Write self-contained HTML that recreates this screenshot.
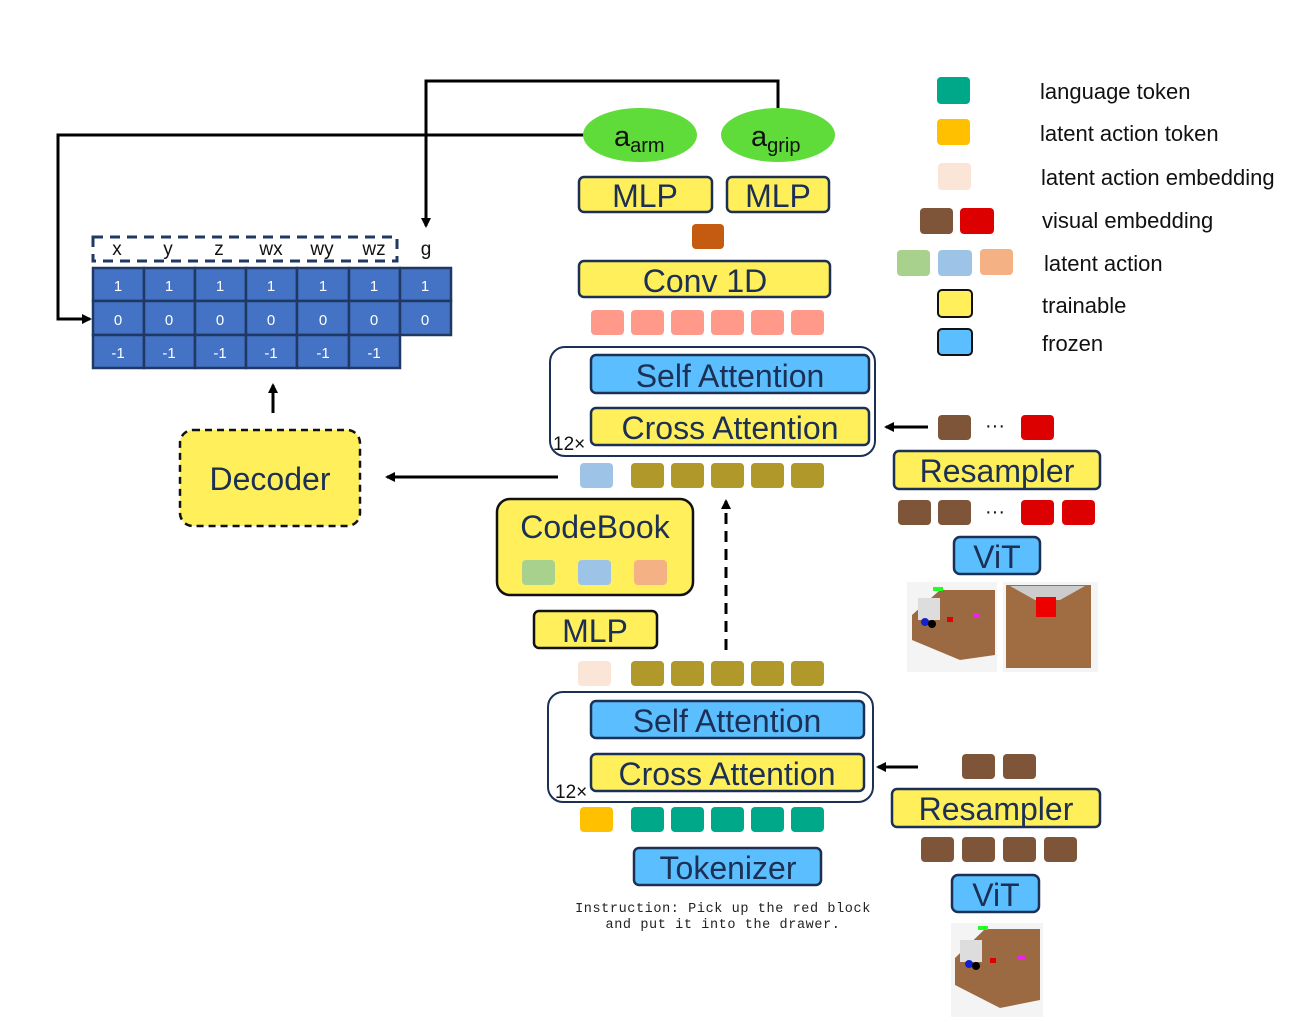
<!DOCTYPE html>
<html><head><meta charset="utf-8"><style>
html,body{margin:0;padding:0;background:#fff;}
svg{display:block;}
text{font-family:"Liberation Sans",sans-serif;}
.lbl{fill:#1c2f55;font-size:32px;text-anchor:middle;}
.leg{fill:#111;font-size:22px;}
.cell{fill:#4472c4;stroke:#1f3864;stroke-width:2.5;}
.ct{fill:#fff;font-size:15px;text-anchor:middle;}
.y{fill:#ffef5a;stroke:#1c2f55;stroke-width:2.5;}
.b{fill:#5bbfff;stroke:#1c2f55;stroke-width:2.5;}
</style></head><body>
<svg width="1301" height="1022" viewBox="0 0 1301 1022" xmlns="http://www.w3.org/2000/svg">
<defs>
<marker id="ah" markerWidth="10" markerHeight="10" refX="8" refY="5" orient="auto" markerUnits="userSpaceOnUse"><path d="M0,0 L10,5 L0,10 z" fill="#000"/></marker>
</defs>
<polyline points="584,135 58,135 58,319 90,319" fill="none" stroke="#000" stroke-width="3" marker-end="url(#ah)"/>
<polyline points="778,108 778,81 426,81 426,226" fill="none" stroke="#000" stroke-width="3" marker-end="url(#ah)"/>
<line x1="558" y1="477" x2="387" y2="477" stroke="#000" stroke-width="3" marker-end="url(#ah)"/>
<line x1="273" y1="413" x2="273" y2="385" stroke="#000" stroke-width="3" marker-end="url(#ah)"/>
<line x1="726" y1="650" x2="726" y2="501" stroke="#000" stroke-width="3" stroke-dasharray="11,7" marker-end="url(#ah)"/>
<line x1="928" y1="427" x2="886" y2="427" stroke="#000" stroke-width="3" marker-end="url(#ah)"/>
<line x1="918" y1="767" x2="878" y2="767" stroke="#000" stroke-width="3" marker-end="url(#ah)"/>

<rect x="93" y="237" width="304" height="24" fill="none" stroke="#1f3864" stroke-width="3" stroke-dasharray="10,7"/>
<g font-size="19" fill="#111" text-anchor="middle">
<text x="117" y="255">x</text><text x="168" y="255">y</text><text x="219" y="255">z</text><text x="271" y="255">wx</text><text x="322" y="255">wy</text><text x="374" y="255">wz</text><text x="426" y="255">g</text>
</g>
<g>
<rect class="cell" x="93" y="268" width="51" height="33"/><rect class="cell" x="144" y="268" width="51" height="33"/><rect class="cell" x="195" y="268" width="51" height="33"/><rect class="cell" x="246" y="268" width="51" height="33"/><rect class="cell" x="297" y="268" width="52" height="33"/><rect class="cell" x="349" y="268" width="51" height="33"/><rect class="cell" x="400" y="268" width="51" height="33"/>
<rect class="cell" x="93" y="301" width="51" height="34"/><rect class="cell" x="144" y="301" width="51" height="34"/><rect class="cell" x="195" y="301" width="51" height="34"/><rect class="cell" x="246" y="301" width="51" height="34"/><rect class="cell" x="297" y="301" width="52" height="34"/><rect class="cell" x="349" y="301" width="51" height="34"/><rect class="cell" x="400" y="301" width="51" height="34"/>
<rect class="cell" x="93" y="335" width="51" height="33"/><rect class="cell" x="144" y="335" width="51" height="33"/><rect class="cell" x="195" y="335" width="51" height="33"/><rect class="cell" x="246" y="335" width="51" height="33"/><rect class="cell" x="297" y="335" width="52" height="33"/><rect class="cell" x="349" y="335" width="51" height="33"/>
</g>
<g>
<text class="ct" x="118" y="291">1</text><text class="ct" x="169" y="291">1</text><text class="ct" x="220" y="291">1</text><text class="ct" x="271" y="291">1</text><text class="ct" x="323" y="291">1</text><text class="ct" x="374" y="291">1</text><text class="ct" x="425" y="291">1</text>
<text class="ct" x="118" y="325">0</text><text class="ct" x="169" y="325">0</text><text class="ct" x="220" y="325">0</text><text class="ct" x="271" y="325">0</text><text class="ct" x="323" y="325">0</text><text class="ct" x="374" y="325">0</text><text class="ct" x="425" y="325">0</text>
<text class="ct" x="118" y="358">-1</text><text class="ct" x="169" y="358">-1</text><text class="ct" x="220" y="358">-1</text><text class="ct" x="271" y="358">-1</text><text class="ct" x="323" y="358">-1</text><text class="ct" x="374" y="358">-1</text>
</g>

<rect x="180" y="430" width="180" height="96" rx="13" fill="#ffef5a" stroke="#111" stroke-width="2.5" stroke-dasharray="7,5"/>
<text class="lbl" x="270" y="490">Decoder</text>

<ellipse cx="640" cy="135" rx="57" ry="27" fill="#5fdb3a"/>
<ellipse cx="778" cy="135" rx="57" ry="27" fill="#5fdb3a"/>
<text x="614" y="146" font-size="29" fill="#111">a<tspan font-size="20" dy="6">arm</tspan></text>
<text x="751" y="146" font-size="29" fill="#111">a<tspan font-size="20" dy="6">grip</tspan></text>

<rect class="y" x="579" y="177" width="133" height="35" rx="5"/><text class="lbl" x="645" y="207">MLP</text>
<rect class="y" x="727" y="177" width="102" height="35" rx="5"/><text class="lbl" x="778" y="207">MLP</text>
<rect x="692" y="224" width="32" height="25" rx="4" fill="#c55a11"/>
<rect class="y" x="579" y="261" width="251" height="36" rx="5"/><text class="lbl" x="705" y="292">Conv 1D</text>
<g fill="#ff9a8a">
<rect x="591" y="310" width="33" height="25" rx="4"/><rect x="631" y="310" width="33" height="25" rx="4"/><rect x="671" y="310" width="33" height="25" rx="4"/><rect x="711" y="310" width="33" height="25" rx="4"/><rect x="751" y="310" width="33" height="25" rx="4"/><rect x="791" y="310" width="33" height="25" rx="4"/>
</g>

<rect x="550" y="347" width="325" height="109" rx="15" fill="#fff" stroke="#1c2f55" stroke-width="2"/>
<rect class="b" x="591" y="355" width="278" height="38" rx="5"/><text class="lbl" x="730" y="387">Self Attention</text>
<rect class="y" x="591" y="408" width="278" height="37" rx="5"/><text class="lbl" x="730" y="439">Cross Attention</text>
<text x="553" y="450" font-size="19" fill="#111">12×</text>

<rect x="580" y="463" width="33" height="25" rx="4" fill="#9dc3e6"/>
<g fill="#b0982a">
<rect x="631" y="463" width="33" height="25" rx="4"/><rect x="671" y="463" width="33" height="25" rx="4"/><rect x="711" y="463" width="33" height="25" rx="4"/><rect x="751" y="463" width="33" height="25" rx="4"/><rect x="791" y="463" width="33" height="25" rx="4"/>
</g>

<rect x="497" y="499" width="196" height="96" rx="13" fill="#ffef5a" stroke="#111" stroke-width="2.5"/>
<text class="lbl" x="595" y="538">CodeBook</text>
<rect x="522" y="560" width="33" height="25" rx="4" fill="#a9d18e"/>
<rect x="578" y="560" width="33" height="25" rx="4" fill="#9dc3e6"/>
<rect x="634" y="560" width="33" height="25" rx="4" fill="#f4b183"/>
<rect x="534" y="611" width="123" height="37" rx="5" fill="#ffef5a" stroke="#111" stroke-width="2.5"/><text class="lbl" x="595" y="642">MLP</text>

<rect x="578" y="661" width="33" height="25" rx="4" fill="#fbe5d6"/>
<g fill="#b0982a">
<rect x="631" y="661" width="33" height="25" rx="4"/><rect x="671" y="661" width="33" height="25" rx="4"/><rect x="711" y="661" width="33" height="25" rx="4"/><rect x="751" y="661" width="33" height="25" rx="4"/><rect x="791" y="661" width="33" height="25" rx="4"/>
</g>

<rect x="548" y="692" width="325" height="110" rx="15" fill="#fff" stroke="#1c2f55" stroke-width="2"/>
<rect class="b" x="591" y="701" width="273" height="37" rx="5"/><text class="lbl" x="727" y="732">Self Attention</text>
<rect class="y" x="591" y="754" width="273" height="37" rx="5"/><text class="lbl" x="727" y="785">Cross Attention</text>
<text x="555" y="798" font-size="19" fill="#111">12×</text>

<rect x="580" y="807" width="33" height="25" rx="4" fill="#ffc000"/>
<g fill="#00a88a">
<rect x="631" y="807" width="33" height="25" rx="4"/><rect x="671" y="807" width="33" height="25" rx="4"/><rect x="711" y="807" width="33" height="25" rx="4"/><rect x="751" y="807" width="33" height="25" rx="4"/><rect x="791" y="807" width="33" height="25" rx="4"/>
</g>
<rect class="b" x="634" y="848" width="187" height="37" rx="5"/><text class="lbl" x="728" y="879">Tokenizer</text>
<g font-size="13.5" fill="#222" text-anchor="middle">
<text x="723" y="912" style="font-family:'Liberation Mono',monospace;letter-spacing:0.6px">Instruction: Pick up the red block</text>
<text x="723" y="928" style="font-family:'Liberation Mono',monospace;letter-spacing:0.6px">and put it into the drawer.</text>
</g>

<rect x="938" y="415" width="33" height="25" rx="4" fill="#7f5539"/>
<text x="995" y="432" font-size="20" fill="#111" text-anchor="middle">···</text>
<rect x="1021" y="415" width="33" height="25" rx="4" fill="#dd0000"/>
<rect class="y" x="894" y="451" width="206" height="38" rx="5"/><text class="lbl" x="997" y="482">Resampler</text>
<rect x="898" y="500" width="33" height="25" rx="4" fill="#7f5539"/>
<rect x="938" y="500" width="33" height="25" rx="4" fill="#7f5539"/>
<text x="995" y="518" font-size="20" fill="#111" text-anchor="middle">···</text>
<rect x="1021" y="500" width="33" height="25" rx="4" fill="#dd0000"/>
<rect x="1062" y="500" width="33" height="25" rx="4" fill="#dd0000"/>
<rect class="b" x="954" y="537" width="86" height="37" rx="6"/><text class="lbl" x="997" y="568">ViT</text>
<rect x="907" y="582" width="90" height="90" fill="#f4f4f4"/>
<path d="M912,615 L940,590 L995,590 L995,655 L960,660 L912,640 z" fill="#9b6a42"/>
<rect x="918" y="598" width="22" height="22" fill="#ddd"/>
<rect x="933" y="587" width="10" height="4" fill="#2f2"/>
<circle cx="925" cy="622" r="4" fill="#12c"/><circle cx="932" cy="624" r="4" fill="#000"/>
<rect x="947" y="617" width="6" height="5" fill="#d00"/><rect x="973" y="613" width="7" height="5" fill="#e2e"/>
<rect x="1003" y="582" width="95" height="90" fill="#f4f4f4"/>
<rect x="1006" y="585" width="85" height="83" fill="#a06c42"/>
<path d="M1010,586 L1035,600 L1060,600 L1085,586 z" fill="#ccc"/>
<rect x="1036" y="597" width="20" height="20" fill="#e00"/>

<rect x="962" y="754" width="33" height="25" rx="4" fill="#7f5539"/>
<rect x="1003" y="754" width="33" height="25" rx="4" fill="#7f5539"/>
<rect class="y" x="892" y="789" width="208" height="38" rx="5"/><text class="lbl" x="996" y="820">Resampler</text>
<rect x="921" y="837" width="33" height="25" rx="4" fill="#7f5539"/>
<rect x="962" y="837" width="33" height="25" rx="4" fill="#7f5539"/>
<rect x="1003" y="837" width="33" height="25" rx="4" fill="#7f5539"/>
<rect x="1044" y="837" width="33" height="25" rx="4" fill="#7f5539"/>
<rect class="b" x="952" y="875" width="87" height="37" rx="6"/><text class="lbl" x="996" y="906">ViT</text>
<rect x="951" y="923" width="92" height="94" fill="#f4f4f4"/>
<path d="M955,958 L985,929 L1040,929 L1040,1000 L1000,1008 L955,985 z" fill="#9b6a42"/>
<rect x="960" y="940" width="22" height="22" fill="#ddd"/>
<rect x="978" y="926" width="10" height="4" fill="#2f2"/>
<circle cx="969" cy="964" r="4" fill="#12c"/><circle cx="976" cy="966" r="4" fill="#000"/>
<rect x="990" y="958" width="6" height="5" fill="#d00"/><rect x="1018" y="955" width="7" height="5" fill="#e2e"/>

<rect x="937" y="77" width="33" height="27" rx="4" fill="#00a88a"/>
<rect x="937" y="119" width="33" height="26" rx="4" fill="#ffc000"/>
<rect x="938" y="163" width="33" height="27" rx="4" fill="#fbe5d6"/>
<rect x="920" y="208" width="33" height="26" rx="4" fill="#7f5539"/>
<rect x="960" y="208" width="34" height="26" rx="4" fill="#dd0000"/>
<rect x="897" y="250" width="33" height="26" rx="4" fill="#a9d18e"/>
<rect x="938" y="250" width="34" height="26" rx="4" fill="#9dc3e6"/>
<rect x="980" y="249" width="33" height="26" rx="4" fill="#f4b183"/>
<rect x="938" y="290" width="34" height="27" rx="4" fill="#ffef5a" stroke="#111" stroke-width="2"/>
<rect x="938" y="329" width="34" height="26" rx="4" fill="#5bbfff" stroke="#111" stroke-width="2"/>
<text class="leg" x="1040" y="99">language token</text>
<text class="leg" x="1040" y="141">latent action token</text>
<text class="leg" x="1041" y="185">latent action embedding</text>
<text class="leg" x="1042" y="228">visual embedding</text>
<text class="leg" x="1044" y="271">latent action</text>
<text class="leg" x="1042" y="313">trainable</text>
<text class="leg" x="1042" y="351">frozen</text>
</svg>
</body></html>
